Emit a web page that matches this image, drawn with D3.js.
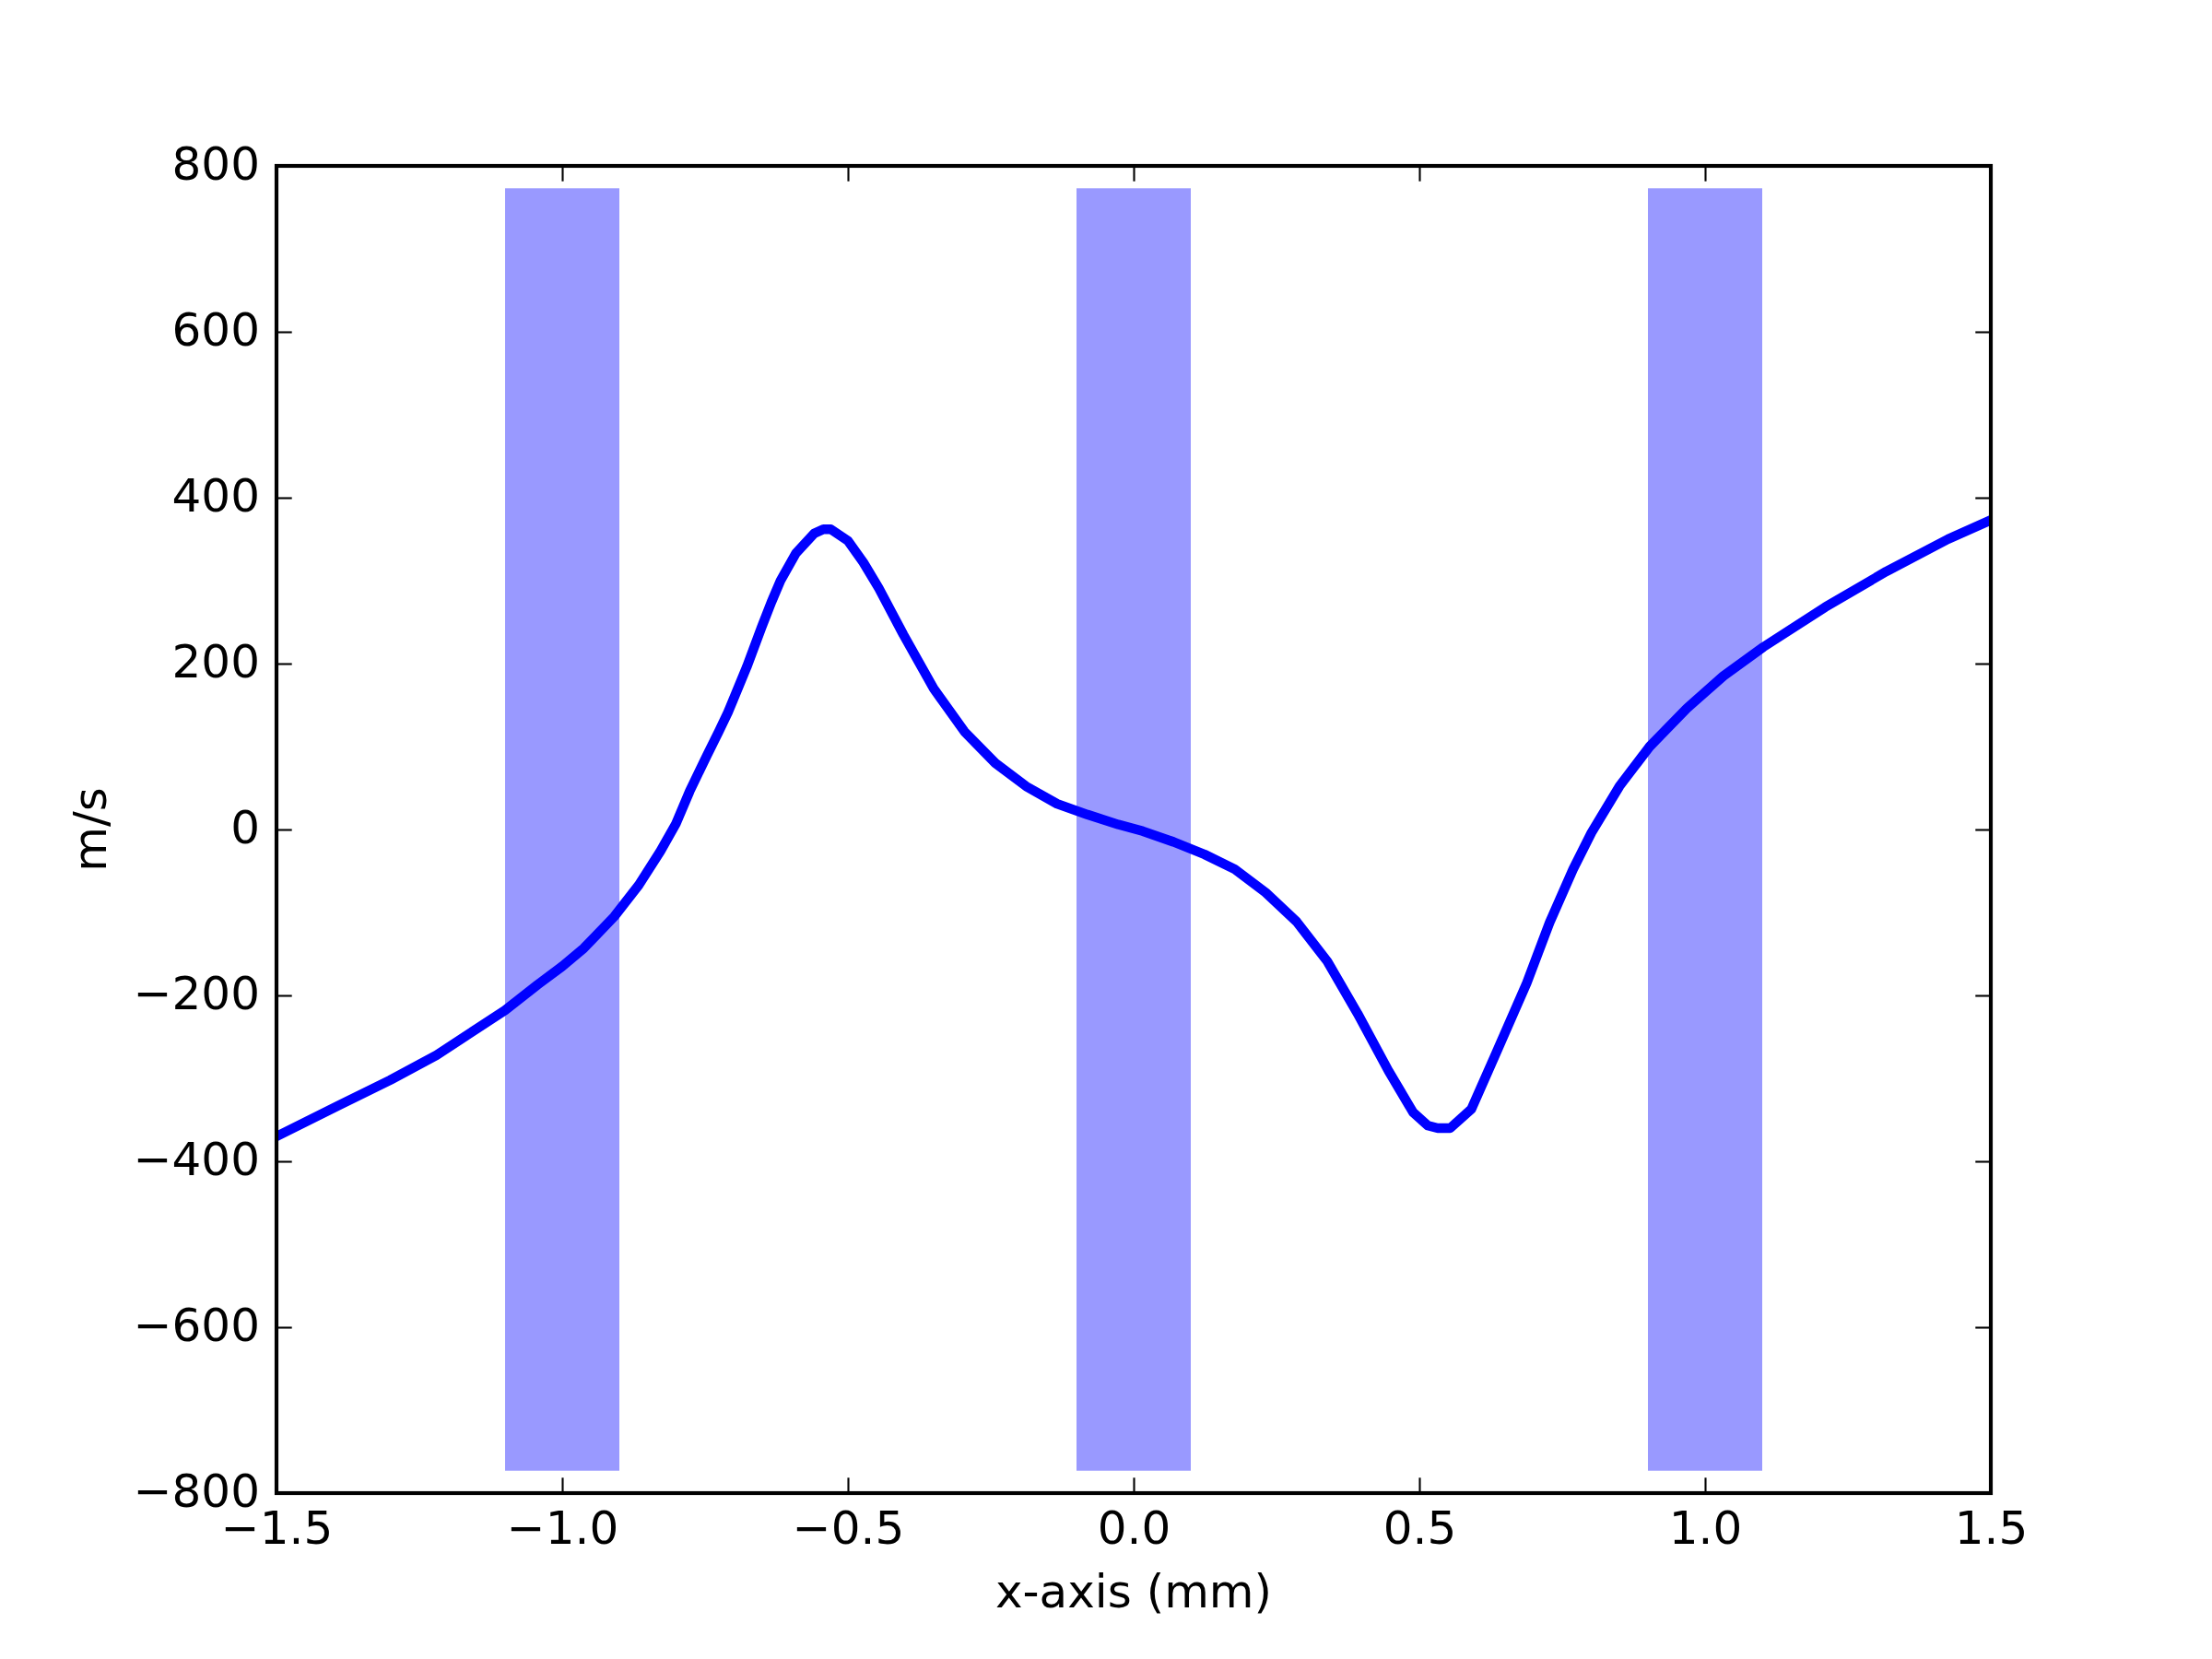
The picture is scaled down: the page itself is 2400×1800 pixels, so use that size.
<!DOCTYPE html>
<html>
<head>
<meta charset="utf-8">
<script src="https://cdn.jsdelivr.net/npm/d3@7"></script>
<style>
  html, body { margin: 0; padding: 0; background: #fff; }
  text { font-family: "DejaVu Sans", sans-serif; }
</style>
</head>
<body>
<svg id="chart" width="2400" height="1800"></svg>
<script>
// ---- data ----
const xValues = [-1.5, -1.392, -1.301, -1.220, -1.1, -1.043, -1.0, -0.962, -0.909, -0.866,
  -0.828, -0.801, -0.777, -0.747, -0.726, -0.710, -0.677, -0.651, -0.634, -0.618,
  -0.591, -0.559, -0.543, -0.530, -0.5, -0.473, -0.446, -0.403, -0.350, -0.296,
  -0.242, -0.188, -0.134, -0.081, -0.027, 0.016, 0.070, 0.124, 0.177, 0.231,
  0.285, 0.339, 0.392, 0.446, 0.489, 0.515, 0.532, 0.554, 0.591, 0.634,
  0.688, 0.728, 0.769, 0.801, 0.850, 0.903, 0.968, 1.032, 1.102, 1.210,
  1.317, 1.425, 1.5];
const speedValues = [-370, -333, -302, -272, -218, -187, -165, -143, -105, -67,
  -26, 7, 46, 89, 118, 141, 196, 244, 274, 300,
  333, 357, 362, 362, 348, 322, 291, 235, 170, 118,
  80, 52, 31, 18, 6, -2, -15, -30, -48, -76,
  -111, -159, -222, -291, -341, -357, -360, -360, -337, -270,
  -185, -112, -48, -4, 52, 100, 146, 185, 220, 268,
  311, 350, 373];
const bandStarts = [-1.1, -0.1, 0.9];
const bandEnds = [-0.9, 0.1, 1.1];
const bandLow = -773;
const bandHigh = 773;
const xTicks = [-1.5, -1.0, -0.5, 0.0, 0.5, 1.0, 1.5];
const yTicks = [-800, -600, -400, -200, 0, 200, 400, 600, 800];
const xLabel = "x-axis (mm)";
const yLabel = "m/s";

// ---- layout ----
const L = 300, R = 2160, T = 180, B = 1620;
const svg = d3.select("#chart");
svg.append("rect").attr("width", 2400).attr("height", 1800).attr("fill", "#fff");

const x = d3.scaleLinear().domain([-1.5, 1.5]).range([L, R]);
const y = d3.scaleLinear().domain([-800, 800]).range([B, T]);

svg.append("defs").append("clipPath").attr("id", "clip")
  .append("rect").attr("x", L).attr("y", T).attr("width", R - L).attr("height", B - T);

const plot = svg.append("g").attr("clip-path", "url(#clip)");

// bands
plot.selectAll("rect.band").data(bandStarts.map((s, i) => [s, bandEnds[i]]))
  .enter().append("rect").attr("class", "band")
  .attr("x", d => x(d[0]))
  .attr("width", d => x(d[1]) - x(d[0]))
  .attr("y", y(bandHigh))
  .attr("height", y(bandLow) - y(bandHigh))
  .attr("fill", "rgb(153,153,255)");

// line
const pts = xValues.map((v, i) => [v, speedValues[i]]);
plot.append("path").datum(pts)
  .attr("d", d3.line().x(d => x(d[0])).y(d => y(d[1])))
  .attr("fill", "none")
  .attr("stroke", "#0000ff")
  .attr("stroke-width", 10.4)
  .attr("stroke-linejoin", "round")
  .attr("stroke-linecap", "square");

// axes
const tickLen = 16.7;
const fmtX = d3.format(".1f");
const fmtY = d3.format("d");

const gB = svg.append("g").attr("transform", `translate(0,${B})`)
  .call(d3.axisBottom(x).tickValues(xTicks).tickFormat(fmtX).tickSize(-tickLen).tickSizeOuter(0));
gB.selectAll("text").attr("y", 55).attr("dy", null);

const gT = svg.append("g").attr("transform", `translate(0,${T})`)
  .call(d3.axisTop(x).tickValues(xTicks).tickFormat("").tickSize(-tickLen).tickSizeOuter(0));

const gL = svg.append("g").attr("transform", `translate(${L},0)`)
  .call(d3.axisLeft(y).tickValues(yTicks).tickFormat(fmtY).tickSize(-tickLen).tickSizeOuter(0));
gL.selectAll("text").attr("x", -18).attr("y", 14).attr("dy", null);

const gR = svg.append("g").attr("transform", `translate(${R},0)`)
  .call(d3.axisRight(y).tickValues(yTicks).tickFormat("").tickSize(-tickLen).tickSizeOuter(0));

[gB, gT, gL, gR].forEach(g => {
  g.select(".domain").remove();
  g.selectAll(".tick line").attr("stroke", "#000").attr("stroke-width", 2.1);
  g.selectAll("text").attr("font-size", 50).attr("fill", "#000")
    .attr("font-family", "DejaVu Sans, sans-serif");
});

// spines
svg.append("rect").attr("x", L).attr("y", T).attr("width", R - L).attr("height", B - T)
  .attr("fill", "none").attr("stroke", "#000").attr("stroke-width", 4.17);

// labels
svg.append("text").attr("x", (L + R) / 2).attr("y", 1744)
  .attr("text-anchor", "middle").attr("font-size", 50).text(xLabel);
svg.append("text").attr("transform", "translate(115,900) rotate(-90)")
  .attr("text-anchor", "middle").attr("font-size", 50).text(yLabel);
</script>
</body>
</html>
